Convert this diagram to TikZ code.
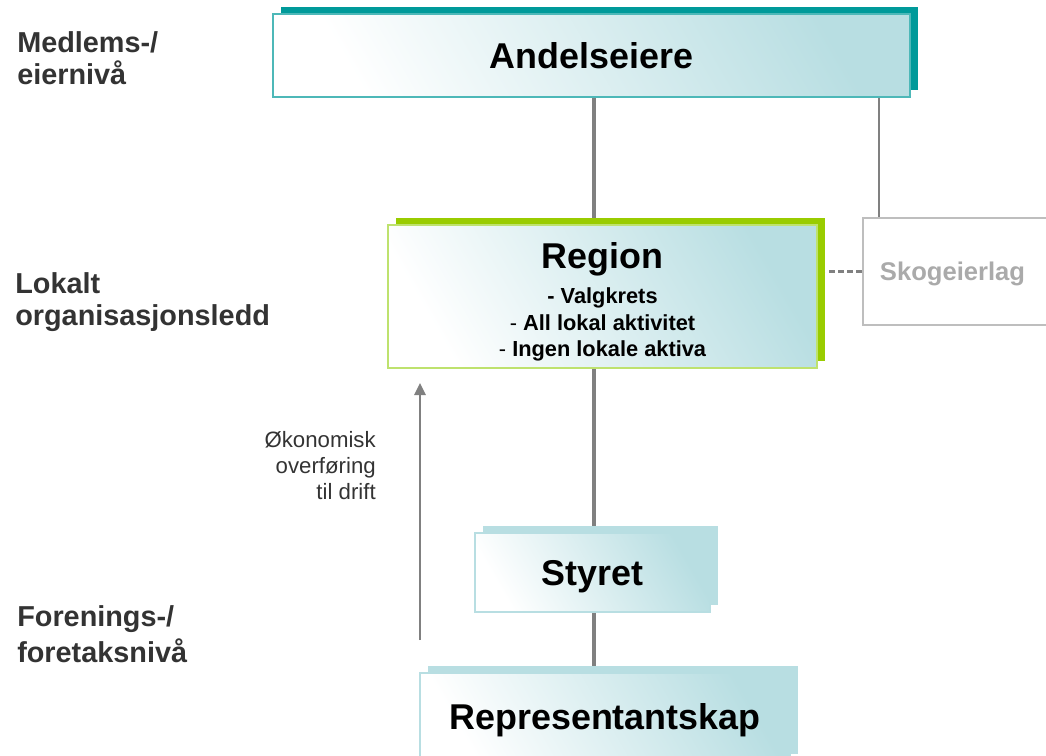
\documentclass[tikz,border=0pt]{standalone}
\usepackage{fontspec}
\setmainfont{Liberation Sans}
\usetikzlibrary{shadows,backgrounds,arrows.meta}
\definecolor{tealdark}{RGB}{0,154,154}
\definecolor{tealline}{RGB}{77,184,184}
\definecolor{boxteal}{RGB}{184,222,226}
\definecolor{greendark}{RGB}{153,204,0}
\definecolor{greenline}{RGB}{190,226,110}
\definecolor{paleteal}{RGB}{184,222,226}
\definecolor{linegray}{RGB}{128,128,128}
\definecolor{skoggray}{RGB}{190,190,190}
\definecolor{skogtext}{RGB}{170,170,170}
\definecolor{levelgray}{RGB}{51,51,51}
\begin{document}
\begin{tikzpicture}[x=0.025cm, y=-0.025cm,
		level/.style={anchor=west, inner sep=0, align=left, text=levelgray, font=\fontsize{20.5}{22.5}\selectfont\bfseries},
		unitbox/.style={draw=#1, line width=1.4pt, inner sep=0, left color=white, right color=boxteal, shading angle=120, font=\fontsize{25.5}{28}\selectfont\bfseries},
		capcenter/.style={text depth=0pt},
		shadowed/.style={drop shadow={shadow xshift=0.2cm, shadow yshift=0.175cm, fill=#1, opacity=1}},
		spine/.style={draw=linegray, line width=2.8pt},
		link/.style={draw=linegray, line width=1.5pt}
	]
		\useasboundingbox (0,0) rectangle (1046,756);
		\clip (0,0) rectangle (1046,756);

		\node[level] (member) at (17,58) {Medlems-/\\eiernivå};
		\node[level, font=\fontsize{20.5}{23}\selectfont\bfseries] (local) at (15,302) {Lokalt\\organisasjonsledd};
		\node[level, font=\fontsize{20.5}{26}\selectfont\bfseries] (company) at (17,634) {Forenings-/\\foretaksnivå};

		\node[unitbox=tealline, capcenter, shadowed=tealdark, minimum width=15.925cm, minimum height=2.075cm] (ande) at (591.5,55.5) {Andelseiere};
		\node[unitbox=greenline, shadowed=greendark, minimum width=10.725cm, minimum height=3.575cm, align=center, font=\fontsize{15.5}{19}\selectfont\bfseries] (region) at (602.5,296.5)
			{{\fontsize{25.5}{28}\selectfont\rule{0pt}{26pt}Region}\\[6pt]- Valgkrets\\{\mdseries -} All lokal aktivitet\\{\mdseries -} Ingen lokale aktiva};
		\node[draw=skoggray, line width=1.4pt, fill=white, minimum width=4.925cm, minimum height=2.675cm, text width=4.075cm, inner xsep=0.425cm, align=left, text=skogtext, capcenter, font=\fontsize{18.2}{20}\selectfont\bfseries] (skog) at (961.5,271.5) {Skogeierlag};
		\node[unitbox=paleteal, capcenter, shadowed=paleteal, minimum width=5.875cm, minimum height=1.975cm] (styret) at (592.5,572.5) {Styret};
		\node[unitbox=paleteal, capcenter, shadowed=paleteal, minimum width=9.25cm, minimum height=2.2cm] (repr) at (605,717) {Representantskap};

		\node[anchor=east, inner sep=0, align=right, text=levelgray, font=\fontsize{15.8}{18.5}\selectfont] (transfer) at (376,466) {Økonomisk\\overføring\\til drift};

		\coordinate (spinex) at (594,0);
		\coordinate (sidex) at (879,0);
		\coordinate (flowstart) at (420,640);
		\coordinate (flowend) at (420,383);

		\begin{scope}[on background layer]
			\draw[spine] (ande.south -| spinex) -- (region.north -| spinex);
			\draw[spine] (region.south -| spinex) -- (styret.north -| spinex);
			\draw[spine] (styret.south -| spinex) -- (repr.north -| spinex);
			\draw[link] (ande.south -| sidex) -- (skog.north -| sidex);
			\draw[link, dash pattern=on 4pt off 2.5pt] (skog.west) -- (skog.west -| region.east);
		\end{scope}
		\draw[link, -{Triangle[length=0.3cm, width=0.28cm]}] (flowstart) -- (flowend);
	\end{tikzpicture}
\end{document}
